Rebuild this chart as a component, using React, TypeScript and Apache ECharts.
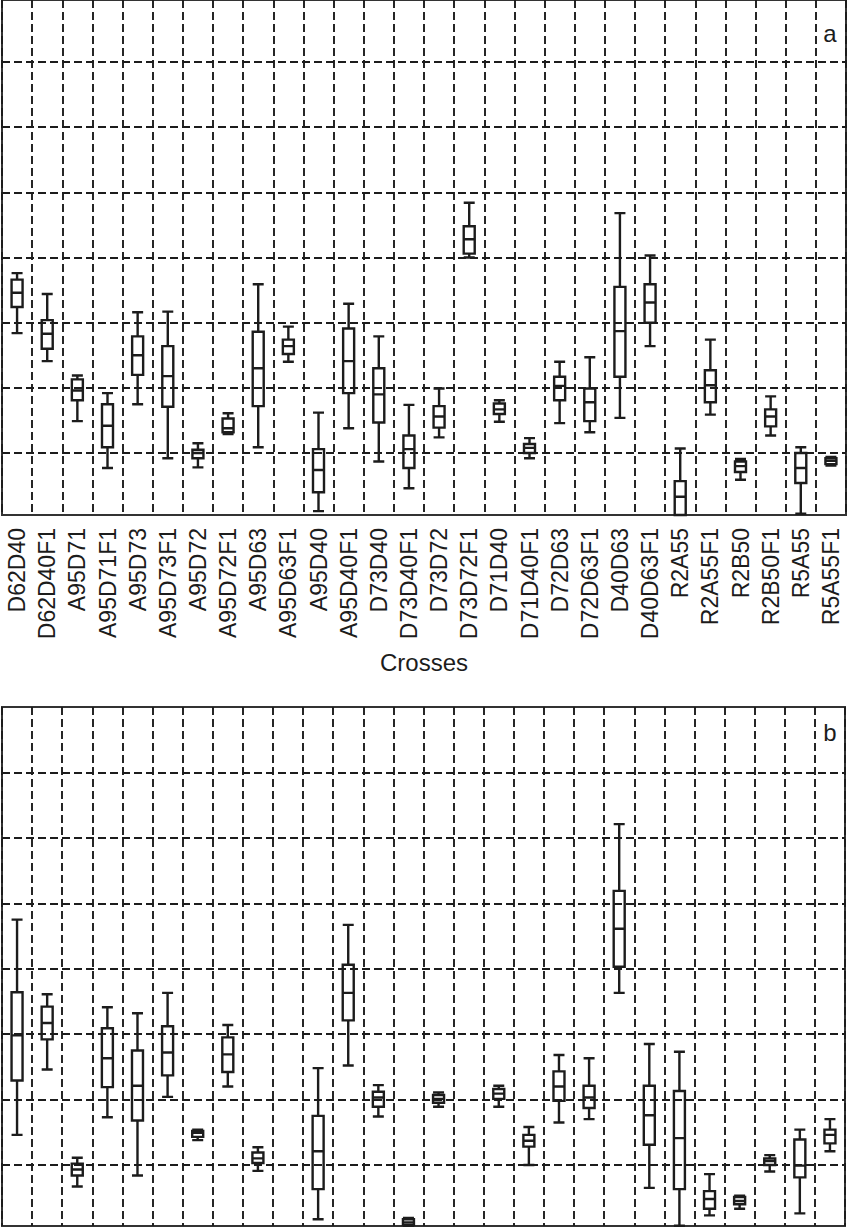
import React, { useEffect, useRef } from "react";
import * as echarts from "echarts";

const categories = [
  "D62D40", "D62D40F1", "A95D71", "A95D71F1", "A95D73", "A95D73F1", "A95D72",
  "A95D72F1", "A95D63", "A95D63F1", "A95D40", "A95D40F1", "D73D40", "D73D40F1",
  "D73D72", "D73D72F1", "D71D40", "D71D40F1", "D72D63", "D72D63F1", "D40D63",
  "D40D63F1", "R2A55", "R2A55F1", "R2B50", "R2B50F1", "R5A55", "R5A55F1",
];

// [lower whisker, Q1, median, Q3, upper whisker]
const boxesA: (number[] | null)[] = [
  [2.84, 3.24, 3.46, 3.66, 3.76],
  [2.41, 2.6, 2.83, 3.04, 3.44],
  [1.49, 1.81, 1.96, 2.13, 2.19],
  [0.77, 1.09, 1.42, 1.75, 1.92],
  [1.75, 2.2, 2.5, 2.79, 3.16],
  [0.92, 1.71, 2.18, 2.64, 3.17],
  [0.78, 0.92, 1.0, 1.05, 1.15],
  [1.29, 1.32, 1.38, 1.53, 1.61],
  [1.09, 1.72, 2.3, 2.86, 3.59],
  [2.4, 2.52, 2.64, 2.74, 2.94],
  [0.11, 0.4, 0.74, 1.06, 1.62],
  [1.38, 1.92, 2.41, 2.91, 3.29],
  [0.87, 1.47, 1.9, 2.3, 2.79],
  [0.46, 0.77, 1.06, 1.27, 1.74],
  [1.24, 1.39, 1.56, 1.72, 1.99],
  [4.0, 4.06, 4.28, 4.48, 4.84],
  [1.48, 1.6, 1.67, 1.76, 1.81],
  [0.92, 1.0, 1.08, 1.14, 1.23],
  [1.46, 1.81, 2.03, 2.17, 2.4],
  [1.32, 1.49, 1.78, 1.99, 2.47],
  [1.54, 2.17, 2.87, 3.55, 4.68],
  [2.64, 3.0, 3.31, 3.59, 4.03],
  [0.05, 0.05, 0.33, 0.57, 1.07],
  [1.59, 1.78, 2.04, 2.27, 2.74],
  [0.59, 0.71, 0.8, 0.87, 0.91],
  [1.27, 1.41, 1.56, 1.67, 1.87],
  [0.07, 0.54, 0.77, 1.0, 1.09],
  [0.81, 0.83, 0.88, 0.92, 0.94],
];

const boxesB: (number[] | null)[] = [
  [1.46, 2.29, 2.98, 3.64, 4.75],
  [2.46, 2.92, 3.17, 3.42, 3.61],
  [0.67, 0.84, 0.93, 1.02, 1.11],
  [1.73, 2.19, 2.63, 3.09, 3.41],
  [0.84, 1.68, 2.21, 2.75, 3.32],
  [2.04, 2.37, 2.72, 3.12, 3.63],
  [1.38, 1.43, 1.49, 1.52, 1.54],
  [2.2, 2.42, 2.69, 2.95, 3.14],
  [0.91, 1.03, 1.1, 1.19, 1.27],
  null,
  [0.17, 0.63, 1.21, 1.75, 2.48],
  [2.52, 3.21, 3.63, 4.06, 4.67],
  [1.74, 1.89, 2.03, 2.12, 2.22],
  [0.07, 0.08, 0.12, 0.17, 0.19],
  [1.89, 1.95, 2.01, 2.07, 2.11],
  null,
  [1.89, 2.01, 2.09, 2.16, 2.21],
  [1.0, 1.28, 1.37, 1.46, 1.58],
  [1.65, 1.98, 2.2, 2.43, 2.68],
  [1.7, 1.87, 2.03, 2.21, 2.63],
  [3.63, 4.03, 4.61, 5.19, 6.21],
  [0.65, 1.31, 1.76, 2.21, 2.85],
  [0.07, 0.63, 1.41, 2.13, 2.73],
  [0.23, 0.33, 0.48, 0.6, 0.86],
  [0.33, 0.4, 0.45, 0.51, 0.53],
  [0.9, 1.0, 1.06, 1.1, 1.15],
  [0.26, 0.81, 0.99, 1.39, 1.54],
  [1.21, 1.33, 1.46, 1.54, 1.7],
];

const gridLevels = [1, 2, 3, 4, 5, 6, 7];
const panelLabels = ["a", "b"];
const axisTitle = "Crosses";

const FONT = "'Liberation Sans', Arial, Helvetica, sans-serif";
const INK = "#1c1c1c";
const DASH = [8, 4];

function toItems(boxes: (number[] | null)[]) {
  const out: number[][] = [];
  boxes.forEach((b, i) => {
    if (b) out.push([i, ...b]);
  });
  return out;
}

export default function App() {
  const ref = useRef<HTMLDivElement>(null);

  useEffect(() => {
    document.body.style.margin = "0";
    if (!ref.current) return;
    const chart = echarts.init(ref.current, null, { renderer: "svg" });

    const makeX = (gridIndex: number, showLabels: boolean) => ({
      type: "category",
      gridIndex,
      data: categories,
      boundaryGap: true,
      axisLine: { show: false },
      axisTick: { show: false },
      axisLabel: {
        show: showLabels,
        rotate: 90,
        interval: 0,
        margin: 13,
        fontSize: 23,
        fontFamily: FONT,
        color: INK,
      },
      name: showLabels ? axisTitle : "",
      nameLocation: "middle",
      nameGap: 135,
      nameTextStyle: { fontSize: 24, fontFamily: FONT, color: INK },
      splitLine: {
        show: true,
        interval: 0,
        lineStyle: { type: DASH, color: INK, width: 1.9 },
      },
    });

    const makeY = (gridIndex: number, min: number, max: number) => ({
      type: "value",
      gridIndex,
      min,
      max,
      axisLine: { show: false },
      axisTick: { show: false },
      axisLabel: { show: false },
      splitLine: { show: false },
    });

    const gridLineSeries = (idx: number) => ({
      type: "line",
      xAxisIndex: idx,
      yAxisIndex: idx,
      data: [],
      silent: true,
      z: 1,
      markLine: {
        silent: true,
        symbol: ["none", "none"],
        label: { show: false },
        lineStyle: { type: DASH, color: INK, width: 1.9 },
        data: gridLevels.map((v) => ({ yAxis: v })),
      },
    });

    const boxSeries = (idx: number, boxes: (number[] | null)[]) => ({
      type: "boxplot",
      xAxisIndex: idx,
      yAxisIndex: idx,
      data: toItems(boxes),
      encode: { x: 0, y: [1, 2, 3, 4, 5] },
      boxWidth: [11, 11],
      z: 3,
      itemStyle: { color: "#fff", borderColor: INK, borderWidth: 2.4 },
    });

    chart.setOption({
      animation: false,
      backgroundColor: "#fff",
      textStyle: { fontFamily: FONT },
      grid: [
        {
          left: 2, width: 844, top: 0, height: 515,
          show: true, borderColor: "#333", borderWidth: 2, backgroundColor: "transparent",
        },
        {
          left: 2, width: 843, top: 707, height: 519,
          show: true, borderColor: "#333", borderWidth: 2, backgroundColor: "transparent",
        },
      ],
      xAxis: [makeX(0, true), makeX(1, false)],
      yAxis: [makeY(0, 0.05, 7.95), makeY(1, 0.067, 8.0)],
      series: [
        gridLineSeries(0),
        gridLineSeries(1),
        boxSeries(0, boxesA),
        boxSeries(1, boxesB),
      ],
      graphic: [
        {
          type: "text", x: 830, y: 33, z: 10,
          style: { text: panelLabels[0], fontSize: 24, fontFamily: FONT, fill: INK, align: "center", verticalAlign: "middle" },
        },
        {
          type: "text", x: 830, y: 732, z: 10,
          style: { text: panelLabels[1], fontSize: 24, fontFamily: FONT, fill: INK, align: "center", verticalAlign: "middle" },
        },
      ],
    });

    return () => chart.dispose();
  }, []);

  return <div ref={ref} style={{ width: 848, height: 1232 }} />;
}
